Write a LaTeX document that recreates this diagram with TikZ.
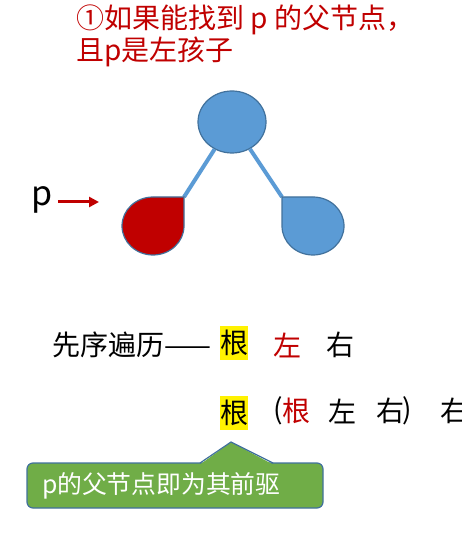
\documentclass[tikz,border=0pt]{standalone}
\usepackage{fontspec}
\setmainfont{Noto Sans CJK SC}
\usepackage{tikz}
\usetikzlibrary{arrows.meta, shapes.geometric}

\definecolor{titlered}{HTML}{C00000}
\definecolor{nodeblue}{HTML}{5B9BD5}
\definecolor{nodeborder}{HTML}{41719C}
\definecolor{notegreen}{HTML}{70AD47}

\begin{document}
\begin{tikzpicture}[x=0.5pt, y=0.5pt, >={Triangle[length=5pt, width=5pt]},
    every node/.style={inner sep=0pt, font=\fontsize{14}{14.5}\selectfont},
    treenode/.style={fill=nodeblue, draw=nodeborder, line width=0.6pt},
    edge/.style={draw=nodeblue, line width=2pt},
    word/.style={minimum width=14pt, minimum height=17pt},
    hilite/.style={word, fill=yellow},
    callout/.style={rectangle, rounded corners=3pt, fill=notegreen, draw=nodeborder, line width=0.6pt,
      text=white, font=\fontsize{12.4}{12.4}\selectfont, minimum height=22.5pt,
      text width=133pt, align=left, inner xsep=7.5pt}]
  \useasboundingbox (0,0) rectangle (461,-544);
  % title
  \node[anchor=north west, align=left, text=titlered] (title) at (76,-4) {①如果能找到 p 的父节点，\\且p是左孩子};
  % tree
  \node[treenode, ellipse, minimum width=34pt, minimum height=31pt] (root) at (232,-122) {};
  \coordinate (lcorner) at (184,-197);
  \coordinate (rcorner) at (282,-197);
  \draw[edge] (root) -- (lcorner);
  \draw[edge] (root) -- (rcorner);
  \draw[treenode, fill=titlered] (lcorner) -- (184,-226) arc[start angle=0, end angle=-270, x radius=31, y radius=29] -- cycle;
  \draw[treenode] (rcorner) -- (282,-226) arc[start angle=180, end angle=450, x radius=31, y radius=29] -- cycle;
  % pointer p
  \node[font=\fontsize{17}{17}\selectfont] (plabel) at (42,-200) {p};
  \coordinate (ptip) at (99,-202);
  \draw[->, titlered, line width=1.5pt] (plabel.east |- ptip) ++(5,0) -- (ptip);
  % preorder
  \node[anchor=west] (preorder) at (52,-345) {先序遍历——};
  \node[hilite] (root1) at (234,-343) {根};
  \node[word, text=titlered] (left1) at (287,-345) {左};
  \node[word] (right1) at (340,-345) {右};
  \node[hilite] (root2) at (234,-413) {根};
  \node[word, minimum width=0pt] (lparen) at (278,-411) {(};
  \node[word, text=titlered] (root3) at (296,-411) {根};
  \node[word] (left2) at (342,-411) {左};
  \node[word] (right2) at (390,-411) {右};
  \node[word, minimum width=0pt] (rparen) at (407,-411) {)};
  \node[word] (right3) at (454,-411) {右};
  % callout
  \node[callout] (note) at (175,-485.5) {p的父节点即为其前驱};
  \fill[notegreen] (200,-464.5) -- (231,-442) -- (273,-464.5) -- cycle;
  \draw[nodeborder, line width=0.6pt] (200,-463) -- (231,-442) -- (273,-463);
\end{tikzpicture}
\end{document}
